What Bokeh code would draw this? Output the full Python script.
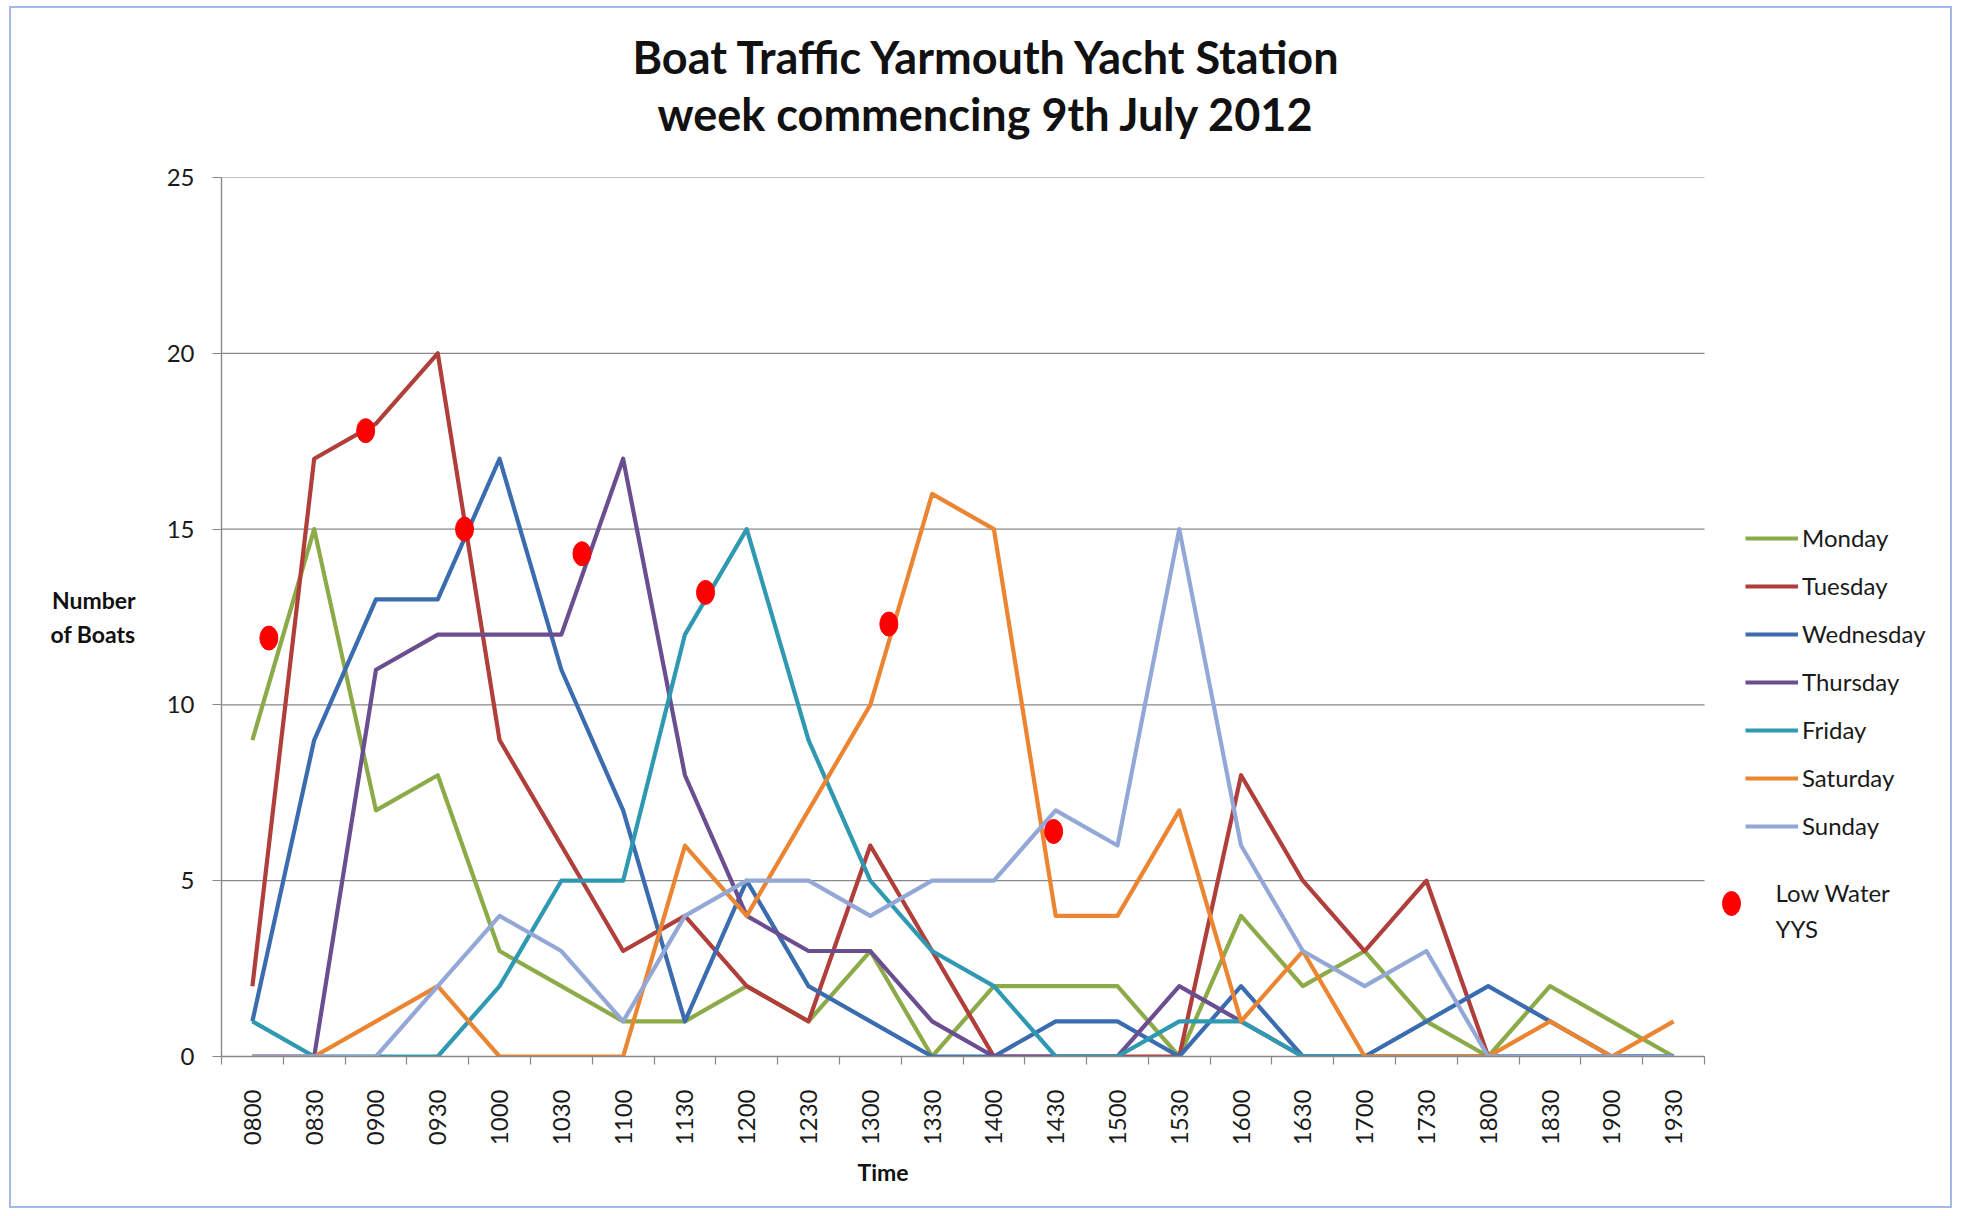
import math
from bokeh.plotting import figure
from bokeh.models import FixedTicker, Label, Legend, LegendItem, Range1d, Title
from bokeh.embed import file_html
from bokeh.resources import INLINE

# ---------------- data ----------------
times = ["0800", "0830", "0900", "0930", "1000", "1030", "1100", "1130",
         "1200", "1230", "1300", "1330", "1400", "1430", "1500", "1530",
         "1600", "1630", "1700", "1730", "1800", "1830", "1900", "1930"]

monday    = [9, 15, 7, 8, 3, 2, 1, 1, 2, 1, 3, 0, 2, 2, 2, 0, 4, 2, 3, 1, 0, 2, 1, 0]
tuesday   = [2, 17, 18, 20, 9, 6, 3, 4, 2, 1, 6, 3, 0, 0, 0, 0, 8, 5, 3, 5, 0, 0, 0, 0]
wednesday = [1, 9, 13, 13, 17, 11, 7, 1, 5, 2, 1, 0, 0, 1, 1, 0, 2, 0, 0, 1, 2, 1, 0, 0]
thursday  = [0, 0, 11, 12, 12, 12, 17, 8, 4, 3, 3, 1, 0, 0, 0, 2, 1, 0, 0, 0, 0, 0, 0, 0]
friday    = [1, 0, 0, 0, 2, 5, 5, 12, 15, 9, 5, 3, 2, 0, 0, 1, 1, 0, 0, 0, 0, 0, 0, 0]
saturday  = [0, 0, 1, 2, 0, 0, 0, 6, 4, 7, 10, 16, 15, 4, 4, 7, 1, 3, 0, 0, 0, 1, 0, 1]
sunday    = [0, 0, 0, 2, 4, 3, 1, 4, 5, 5, 4, 5, 5, 7, 6, 15, 6, 3, 2, 3, 0, 0, 0, 0]

series_names = ["Monday", "Tuesday", "Wednesday", "Thursday", "Friday", "Saturday", "Sunday"]
series_colors = ["#8CAB48", "#B03E3B", "#3A6CAF", "#6A4E8F", "#2F99B2", "#EC8532", "#93A8D6"]

low_water_times = ["08:08", "08:55", "09:43", "10:40", "11:40", "13:09", "14:29"]
low_water_y = [11.9, 17.8, 15.0, 14.3, 13.2, 12.3, 6.4]
low_water_label = ["Low Water", "YYS"]

y_ticks = [0, 5, 10, 15, 20, 25]

title_line1 = "Boat Traffic  Yarmouth Yacht Station"
title_line2 = "week commencing 9th July 2012"
x_label = "Time"
y_label = "Number\nof Boats"

# ---------------- helpers ----------------
def time_to_pos(t):
    h, m = t.split(":")
    minutes = int(h) * 60 + int(m)
    return (minutes - 8 * 60) / 30.0

x = list(range(len(times)))
low_water_x = [time_to_pos(t) for t in low_water_times]

FONT = "Lato"
TXT = "#1a1a1a"
GRID = "#888888"

W, H = 1943, 1202
LEFT, TOP, BOTTOM = 210, 169, 154
PLOT_W = 1483.0                 # width of the category area in px
x_start = -0.5
x_cat_end = len(times) - 0.5
x_end = x_start + (x_cat_end - x_start) * (W - LEFT) / PLOT_W

p = figure(width=W, height=H, output_backend="svg", toolbar_location=None,
           x_range=Range1d(x_start, x_end), y_range=Range1d(0, 25),
           min_border_left=LEFT, min_border_right=0, min_border_top=TOP,
           min_border_bottom=BOTTOM)
p.styles = {"border": "2px solid #A6B8E8", "margin-left": "9px", "margin-top": "6px"}
p.outline_line_color = None
p.background_fill_color = "white"
p.border_fill_color = "white"

# titles (line 2 added first so it sits closest to the plot)
try:
    t2 = Title(text=title_line2, align="left", offset=436, text_font=FONT, text_font_size="45px",
               text_font_style="bold", text_color="#111111", standoff=73)
    t1 = Title(text=title_line1, align="left", offset=411, text_font=FONT, text_font_size="45px",
               text_font_style="bold", text_color="#111111", standoff=-70)
except Exception:
    t2 = Title(text=title_line2, align="left", offset=436, text_font=FONT, text_font_size="45px",
               text_font_style="bold", text_color="#111111", standoff=73)
    t1 = Title(text=title_line1, align="left", offset=411, text_font=FONT, text_font_size="45px",
               text_font_style="bold", text_color="#111111", standoff=0)
p.add_layout(t2, "above")
p.add_layout(t1, "above")

# x axis
p.xaxis.bounds = (x_start, x_cat_end)
p.xaxis.ticker = FixedTicker(ticks=x, minor_ticks=[i - 0.5 for i in range(len(times) + 1)])
p.xaxis.major_label_overrides = {i: t for i, t in enumerate(times)}
p.xaxis.major_label_orientation = math.pi / 2
p.xaxis.major_tick_line_color = None
p.xaxis.major_tick_out = 0
p.xaxis.major_tick_in = 0
p.xaxis.minor_tick_line_color = GRID
p.xaxis.minor_tick_out = 8
p.xaxis.minor_tick_in = 0
p.xaxis.minor_tick_line_width = 1.2
p.xaxis.major_label_standoff = 25
p.xaxis.axis_line_color = GRID
p.xaxis.axis_line_width = 1.4
p.xaxis.major_label_text_font = FONT
p.xaxis.major_label_text_font_size = "24px"
p.xaxis.major_label_text_color = TXT

p.add_layout(Title(text=x_label, align="left", offset=636, text_font=FONT,
                   text_font_size="23px", text_font_style="bold", text_color="#111111",
                   standoff=14), "below")

# y axis
p.yaxis.ticker = FixedTicker(ticks=y_ticks)
p.yaxis.minor_tick_line_color = None
p.yaxis.major_tick_line_color = GRID
p.yaxis.major_tick_out = 9
p.yaxis.major_tick_in = 0
p.yaxis.major_tick_line_width = 1.2
p.yaxis.major_label_standoff = 18
p.yaxis.axis_line_color = GRID
p.yaxis.axis_line_width = 1.4
p.yaxis.major_label_text_font = FONT
p.yaxis.major_label_text_font_size = "24px"
p.yaxis.major_label_text_color = TXT
p.yaxis.axis_label = y_label
p.yaxis.axis_label_standoff = 28
p.yaxis.axis_label_text_font = FONT
p.yaxis.axis_label_text_font_size = "23px"
p.yaxis.axis_label_text_font_style = "bold"
p.yaxis.axis_label_text_color = "#111111"
p.yaxis.axis_label_text_align = "center"
try:
    p.yaxis.axis_label_orientation = "horizontal"
except Exception:
    pass

# horizontal gridlines only over the category area
p.xgrid.visible = False
p.ygrid.visible = False
p.segment(x0=[x_start] * len(y_ticks), x1=[x_cat_end] * len(y_ticks),
          y0=y_ticks, y1=y_ticks, line_color=GRID, line_width=1.2)

# series
all_series = [monday, tuesday, wednesday, thursday, friday, saturday, sunday]
renderers = []
for name, vals, col in zip(series_names, all_series, series_colors):
    r = p.line(x, vals, line_color=col, line_width=4.2, line_join="round")
    renderers.append(r)

dots = p.ellipse(low_water_x, low_water_y, width=18, height=24,
                 width_units="screen", height_units="screen",
                 fill_color="#FF0000", line_color="#FF0000")

leg = Legend(items=[LegendItem(label=n, renderers=[r]) for n, r in zip(series_names, renderers)],
             location=(1524, 216), orientation="vertical",
             border_line_color=None, background_fill_alpha=0,
             padding=0, margin=0, spacing=19, glyph_width=53, glyph_height=28,
             label_height=28, label_standoff=4,
             label_text_font=FONT, label_text_font_size="24px", label_text_color=TXT)
p.add_layout(leg)

leg2 = Legend(items=[LegendItem(label=" ", renderers=[dots])],
              location=(1495, 138), orientation="vertical",
              border_line_color=None, background_fill_alpha=0,
              padding=0, margin=0, glyph_width=30, glyph_height=30, label_height=30,
              label_standoff=0, label_text_font_size="2px")
p.add_layout(leg2)

for txt, yv in zip(low_water_label, [4.66, 3.64]):
    p.add_layout(Label(x=24.65, y=yv, text=txt, text_font=FONT, text_font_size="24px",
                       text_align="left", text_baseline="middle", text_color=TXT))

open("out.html", "w").write(file_html(p, INLINE))
